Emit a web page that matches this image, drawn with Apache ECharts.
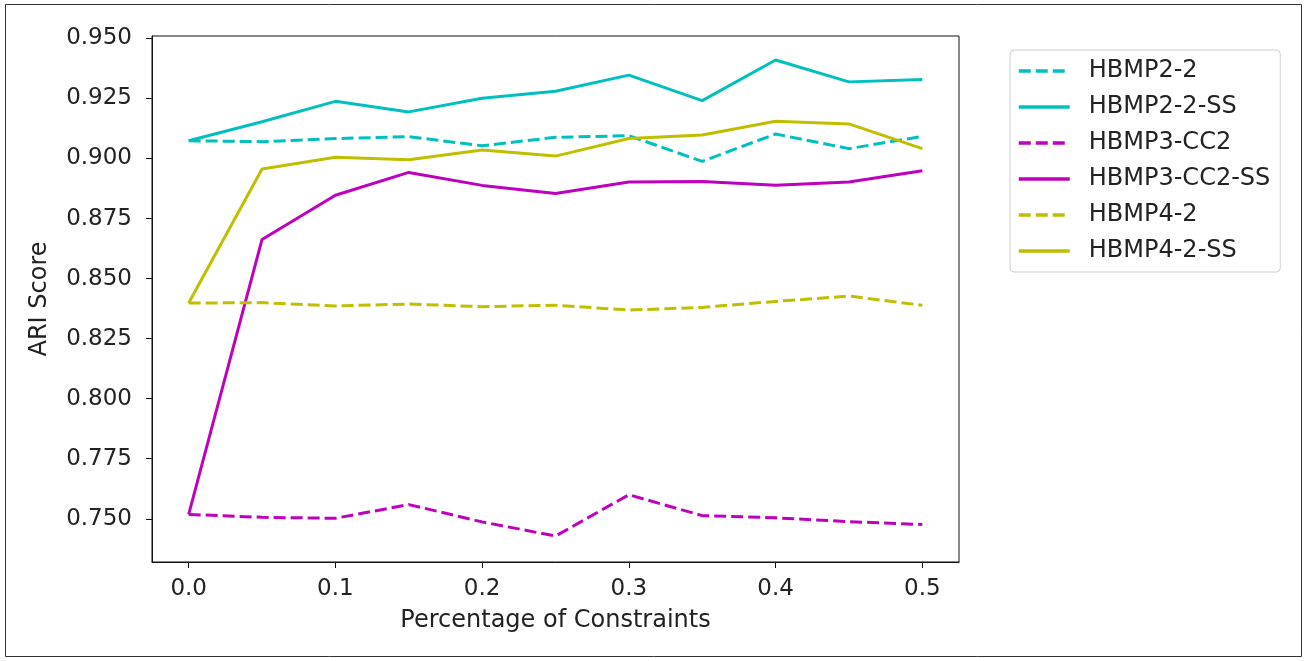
<!DOCTYPE html>
<html>
<head>
<meta charset="utf-8">
<script src="https://cdn.jsdelivr.net/npm/echarts@6/dist/echarts.min.js"></script>
<style>
html,body{margin:0;padding:0;background:#fff;}
#c{width:1308px;height:661px;}
</style>
</head>
<body>
<div id="c"></div>
<script>
const xs = [0.0, 0.05, 0.1, 0.15, 0.2, 0.25, 0.3, 0.35, 0.4, 0.45, 0.5];
const xTicks = [0.0, 0.1, 0.2, 0.3, 0.4, 0.5];
const yTicks = [0.750, 0.775, 0.800, 0.825, 0.850, 0.875, 0.900, 0.925, 0.950];
const seriesNames = ['HBMP2-2', 'HBMP2-2-SS', 'HBMP3-CC2', 'HBMP3-CC2-SS', 'HBMP4-2', 'HBMP4-2-SS'];
const hbmp2_2      = [0.9074, 0.9070, 0.9083, 0.9091, 0.9053, 0.9088, 0.9095, 0.8988, 0.9102, 0.9041, 0.9092];
const hbmp2_2_ss   = [0.9074, 0.9153, 0.9238, 0.9194, 0.9251, 0.9280, 0.9347, 0.9241, 0.9410, 0.9319, 0.9329];
const hbmp3_cc2    = [0.7518, 0.7506, 0.7502, 0.7559, 0.7487, 0.7428, 0.7600, 0.7513, 0.7504, 0.7488, 0.7476];
const hbmp3_cc2_ss = [0.7518, 0.8663, 0.8847, 0.8942, 0.8888, 0.8854, 0.8902, 0.8904, 0.8889, 0.8902, 0.8949];
const hbmp4_2      = [0.8398, 0.8400, 0.8386, 0.8394, 0.8383, 0.8389, 0.8369, 0.8380, 0.8405, 0.8427, 0.8389];
const hbmp4_2_ss   = [0.8398, 0.8956, 0.9005, 0.8995, 0.9035, 0.9010, 0.9083, 0.9098, 0.9155, 0.9144, 0.9041];

const seriesValues = [hbmp2_2, hbmp2_2_ss, hbmp3_cc2, hbmp3_cc2_ss, hbmp4_2, hbmp4_2_ss];
const colors = ['#00BFBF', '#00BFBF', '#BF00BF', '#BF00BF', '#BFBF00', '#BFBF00'];
const dashed = [true, false, true, false, true, false];

const FONT = 'DejaVu Sans';
const chart = echarts.init(document.getElementById('c'), null, {renderer: 'canvas'});

const series = seriesNames.map((name, i) => ({
  name: name,
  type: 'line',
  data: xs.map((x, j) => [x, seriesValues[i][j]]),
  symbol: 'none',
  showSymbol: false,
  animation: false,
  color: colors[i],
  itemStyle: {color: colors[i]},
  lineStyle: {
    color: colors[i],
    width: 3,
    type: dashed[i] ? [12, 5] : 'solid'
  },
  emphasis: {disabled: true}
}));

chart.setOption({
  backgroundColor: '#fff',
  animation: false,
  grid: {
    left: 152, right: 349, top: 36, bottom: 99,
    show: true, borderColor: '#111', borderWidth: 1, backgroundColor: 'transparent'
  },
  xAxis: {
    type: 'value',
    min: -0.025, max: 0.525,
    name: 'Percentage of Constraints',
    nameLocation: 'middle',
    nameGap: 47,
    nameTextStyle: {fontFamily: FONT, fontSize: 24, color: '#222'},
    axisLine: {show: true, onZero: false, lineStyle: {color: '#111', width: 1}},
    splitLine: {show: false},
    axisTick: {show: true, length: 6, lineStyle: {color: '#111'}, customValues: xTicks},
    axisLabel: {
      customValues: xTicks,
      margin: 16,
      fontFamily: FONT, fontSize: 23, color: '#222',
      formatter: v => Number(v).toFixed(1)
    }
  },
  yAxis: {
    type: 'value',
    min: 0.732, max: 0.951,
    name: 'ARI Score',
    nameLocation: 'middle',
    nameGap: 100,
    nameRotate: 90,
    nameTextStyle: {fontFamily: FONT, fontSize: 24, color: '#222'},
    axisLine: {show: true, onZero: false, lineStyle: {color: '#111', width: 1}},
    splitLine: {show: false},
    axisTick: {show: true, length: 6, lineStyle: {color: '#111'}, customValues: yTicks},
    axisLabel: {
      customValues: yTicks,
      margin: 20,
      fontFamily: FONT, fontSize: 23, color: '#222',
      formatter: v => Number(v).toFixed(3)
    }
  },
  legend: {
    orient: 'vertical',
    left: 1010, top: 50,
    padding: [9, 10, 9, 7],
    itemWidth: 51,
    itemHeight: 14,
    itemGap: 12,
    backgroundColor: '#fff',
    borderColor: '#d0d0d0',
    borderWidth: 1,
    borderRadius: 4,
    selectedMode: false,
    data: seriesNames,
    itemStyle: {color: 'rgba(0,0,0,0)', borderColor: 'rgba(0,0,0,0)', borderWidth: 0, opacity: 0},
    lineStyle: {width: 3.5},
    textStyle: {fontFamily: FONT, fontSize: 24, color: '#222', lineHeight: 24, padding: [0, 0, 0, 14]}
  },
  graphic: [{
    type: 'rect',
    shape: {x: 5.5, y: 4.5, width: 1296, height: 652},
    style: {fill: 'none', stroke: '#333', lineWidth: 1},
    silent: true, z: 100
  }],
  series: series
});
</script>
</body>
</html>
